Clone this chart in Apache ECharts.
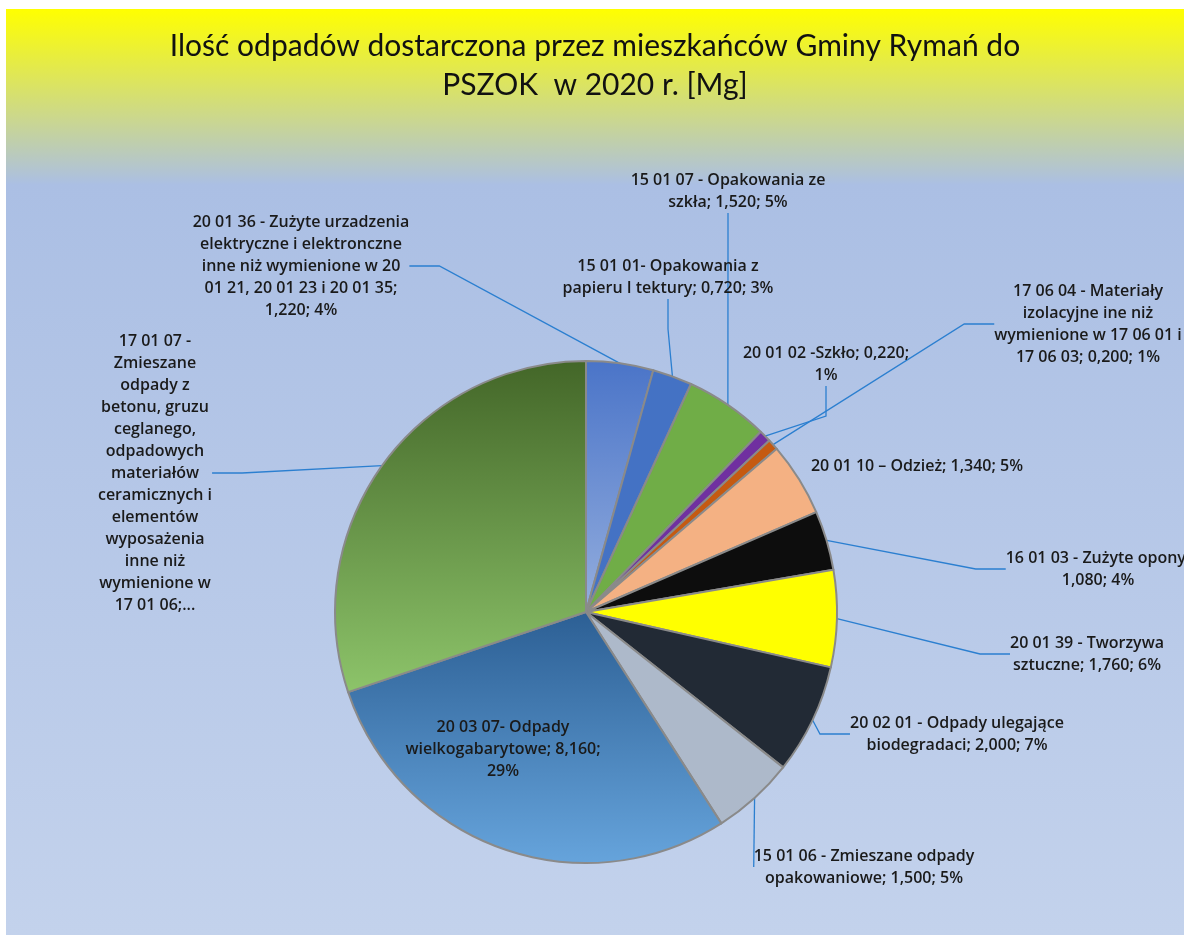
<!DOCTYPE html>
<html>
<head>
<meta charset="utf-8">
<script src="https://cdn.jsdelivr.net/npm/echarts@6/dist/echarts.min.js"></script>
<style>
body{margin:0;background:#fff;}
#main{position:absolute;left:6px;top:9px;width:1178px;height:926px;}
</style>
</head>
<body>
<div id="main"></div>
<script>
// dane: ilość odpadów [Mg]
var categories = [
  '20 01 36 - Zużyte urzadzenia elektryczne i elektronczne inne niż wymienione w 20 01 21, 20 01 23 i 20 01 35',
  '15 01 01- Opakowania z papieru I tektury',
  '15 01 07 - Opakowania ze szkła',
  '20 01 02 -Szkło',
  '17 06 04 - Materiały izolacyjne ine niż wymienione w 17 06 01 i 17 06 03',
  '20 01 10 – Odzież',
  '16 01 03 - Zużyte opony',
  '20 01 39 - Tworzywa sztuczne',
  '20 02 01 - Odpady ulegające biodegradaci',
  '15 01 06 - Zmieszane odpady opakowaniowe',
  '20 03 07- Odpady wielkogabarytowe',
  '17 01 07 - Zmieszane odpady z betonu, gruzu ceglanego, odpadowych materiałów ceramicznych i elementów wyposażenia inne niż wymienione w 17 01 06'
];
var values = [1.220, 0.720, 1.520, 0.220, 0.200, 1.340, 1.080, 1.760, 2.000, 1.500, 8.160, 8.520];
var truncated = [11]; // etykieta ucięta w oryginale

var colors = [
  {type:'linear',x:0,y:0,x2:0,y2:1,colorStops:[{offset:0,color:'#4a74c8'},{offset:1,color:'#94aede'}]},
  '#4472c4','#70ad47','#7030a0','#c55a11','#f4b183','#0d0d0d','#ffff00','#222a35','#adb9ca',
  {type:'linear',x:0,y:0,x2:0,y2:1,colorStops:[{offset:0,color:'#2c5f94'},{offset:1,color:'#66a4dc'}]},
  {type:'linear',x:0,y:0,x2:0,y2:1,colorStops:[{offset:0,color:'#436628'},{offset:1,color:'#8dc46a'}]}
];
// pozycje etykiet (srodek bloku tekstu) i podzial na linie (liczba slow w linii)
var labelPos = [[295,257],[662,268],[722,182],[820,355],[1082,315],[911,457],[1092,560],[1081,645],[951,725],[858,858],[497,740],[149,464]];
var lineWords = [[6,3,5,9,2],[5,5],[6,3],[5,1],[5,3,6,5],[99],[6,2],[5,3],[6,3],[6,3],[4,2,1],
  [4,1,2,2,1,1,1,2,1,1,2,2,3]];

function wrap(text, counts){
  var w = text.split(' '), out = [], k = 0;
  counts.forEach(function(n){
    if (k < w.length) out.push(w.slice(k, k + n).join(' '));
    k += n;
  });
  return out.join('\n');
}

var myChart = echarts.init(document.getElementById('main'));

var data = categories.map(function(c, i){
  var item = {name: c, value: values[i], itemStyle: {color: colors[i]}};
  if (i == 5 || i == 10) item.labelLine = {show: false};
  return item;
});

option = {
  backgroundColor: {type:'linear',x:0,y:0,x2:0,y2:1,colorStops:[
    {offset:0,color:'#ffff00'},{offset:0.19,color:'#abbfe4'},{offset:1,color:'#c3d2ec'}]},
  title: {
    text: 'Ilość odpadów dostarczona przez mieszkańców Gminy Rymań do\nPSZOK  w 2020 r. [Mg]',
    left: 'center',
    top: 13,
    textStyle: {fontFamily: 'Lato', fontSize: 30, fontWeight: 'normal', color: '#111', lineHeight: 39}
  },
  series: [{
    type: 'pie',
    center: [580, 603],
    radius: 251,
    startAngle: 90,
    clockwise: true,
    percentPrecision: 0,
    animation: false,
    itemStyle: {borderColor: '#8a8a8a', borderWidth: 2},
    label: {
      show: true,
      fontFamily: 'Open Sans',
      fontSize: 16,
      fontWeight: 600,
      color: '#1a1a1a',
      lineHeight: 22,
      align: 'center',
      formatter: function(p){
        var t;
        if (truncated.indexOf(p.dataIndex) >= 0) t = p.name + ';...';
        else t = p.name + '; ' + p.value.toFixed(3).replace('.', ',') + '; ' + p.percent + '%';
        return wrap(t, lineWords[p.dataIndex]);
      }
    },
    labelLine: {show: true, lineStyle: {color: '#2b7fd0', width: 1.3}},
    labelLayout: function(params){
      var pos = labelPos[params.dataIndex];
      return {x: pos[0], y: pos[1], align: 'center', verticalAlign: 'middle'};
    },
    data: data
  }]
};
myChart.setOption(option);
</script>
</body>
</html>
